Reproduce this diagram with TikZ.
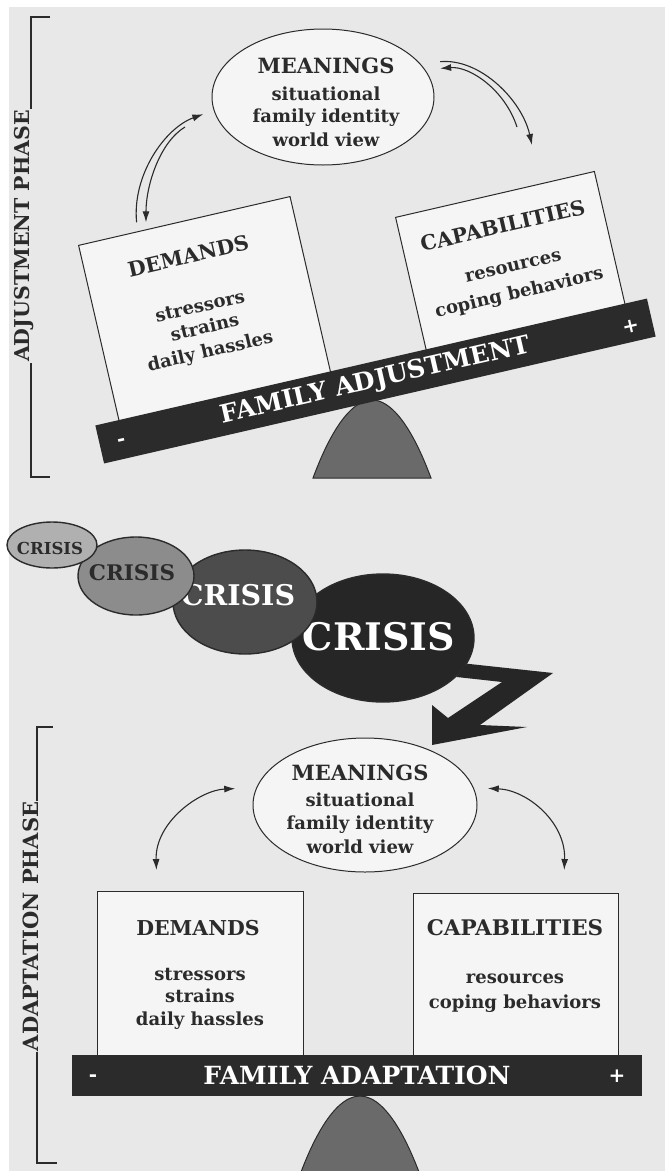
\documentclass[tikz,border=0pt]{standalone}
\usepackage{fontspec}
\setmainfont{DejaVu Serif}
\usetikzlibrary{arrows.meta,calc,positioning,shapes.geometric}

\definecolor{paper}{HTML}{E8E8E8}
\definecolor{ink}{HTML}{2B2B2B}
\definecolor{boxfill}{HTML}{F5F5F5}
\definecolor{domegray}{HTML}{6A6A6A}
\definecolor{shadeA}{HTML}{B0B0B0}
\definecolor{shadeB}{HTML}{8C8C8C}
\definecolor{shadeC}{HTML}{4C4C4C}
\definecolor{shadeD}{HTML}{262626}

\tikzset{
  pointer/.tip={Latex[length=11pt,width=7pt]},
  panel/.style={draw=ink, line width=1pt, fill=boxfill, inner sep=0pt},
  idea/.style={ellipse, draw=ink, line width=1pt, fill=boxfill, inner sep=0pt},
  head/.style={anchor=base, inner sep=0pt, text=ink, font=\fontsize{#1}{#1}\selectfont\bfseries},
  head/.default=20.5,
  item/.style={anchor=base, inner sep=0pt, text=ink, font=\fontsize{18}{22}\selectfont\bfseries},
  beam/.style={fill=ink, inner sep=0pt, text=white, font=\fontsize{#1}{#1}\selectfont\bfseries},
  sign/.style={inner sep=0pt, text=white, font=\fontsize{20}{20}\selectfont\bfseries},
  link/.style={draw=ink, line width=1.1pt, -pointer},
  twoway/.style={draw=ink, line width=1.1pt, pointer-pointer},
  phase/.style={rotate=90, inner sep=1pt, text=ink, font=\fontsize{#1}{#1}\selectfont\bfseries},
  bracket/.style={draw=ink, line width=1.1pt},
  fulcrum/.style={fill=domegray, draw=ink, line width=1pt},
  crisis/.style={ellipse, draw=ink, line width=1.4pt, inner sep=0pt},
  crisistext/.style={inner sep=0pt, font=\fontsize{#1}{#1}\selectfont\bfseries},
}

\begin{document}
\begin{tikzpicture}[x=1pt,y=-1pt]
  \useasboundingbox (0,0) rectangle (665,1171);
  \fill[white] (0,0) rectangle (665,1171);
  \fill[paper] (9,7) rectangle (665,1171);

  % Adjustment phase bracket
  \node[phase=20.5] (adjPhase) at (24,236) {ADJUSTMENT PHASE};
  \coordinate (adjTop) at (31,17);
  \coordinate (adjBot) at (31,477);
  \draw[bracket] ($(adjTop)+(19,0)$) -- (adjTop) -- (adjTop |- adjPhase.east);
  \draw[bracket] (adjBot |- adjPhase.west) -- (adjBot) -- ($(adjBot)+(19,0)$);

  % Meanings (adjustment)
  \node[idea, minimum width=222pt, minimum height=136pt] (meanA) at (323,97) {};
  \node[head=21] (meanAhead) at (326,73) {MEANINGS};
  \foreach \txt/\yy [count=\i] in {situational/100, family identity/122, world view/146}
    \node[item] (meanA\i) at (326,\yy) {\txt};

  % Demands box (tilted)
  \begin{scope}[shift={(78,245)}, rotate=13, transform shape]
    \node[panel, anchor=north west, minimum width=217pt, minimum height=195pt] (demA) at (0,0) {};
    \node[head] (demAhead) at (105,43) {DEMANDS};
    \foreach \txt/\yy [count=\i] in {stressors/93, strains/115, daily hassles/139}
      \node[item] (demA\i) at (105,\yy) {\txt};
  \end{scope}

  % Capabilities box (tilted)
  \begin{scope}[shift={(395,217)}, rotate=13, transform shape]
    \node[panel, anchor=north west, minimum width=204pt, minimum height=150pt] (capA) at (0,0) {};
    \node[head] (capAhead) at (103,40) {CAPABILITIES};
    \foreach \txt/\yy [count=\i] in {resources/80, coping behaviors/107}
      \node[item] (capA\i) at (104,\yy) {\txt};
  \end{scope}

  % Fulcrum and tilted beam
  \draw[fulcrum] (313,478) parabola bend (372,400) (431,478) -- cycle;
  \node[beam=25, rotate=12.96, minimum width=566pt, minimum height=39pt] (barA) at (375.5,381) {FAMILY ADJUSTMENT};
  \node[sign, rotate=13] (barAminus) at ($(barA.west)!0.04!(barA.east)+(0,3)$) {-};
  \node[sign, rotate=13] (barAplus) at ($(barA.west)!0.962!(barA.east)+(0,4)$) {+};

  % Arrows between meanings and boxes
  \coordinate (demAtail) at (185,127);
  \coordinate (capAtail) at (517,127);
  \coordinate (capAtip) at (532,145);
  \draw[link, shorten <=9pt, shorten >=11pt] ($(demA.north west)!0.28!(demA.north east)$)
    .. controls (132,175) and (165,128) .. (meanA.187);
  \draw[link, shorten >=7pt] (demAtail)
    .. controls (160,142) and (146,185) .. ($(demA.north west)!0.32!(demA.north east)$);
  \draw[link, shorten >=15pt] (capAtail)
    .. controls (505,90) and (470,66) .. (meanA.15);
  \draw[link, shorten <=20pt] (meanA.19)
    .. controls (480,58) and (522,100) .. (capAtip);

  % Crisis pile-up
  \node[crisis, fill=shadeD, minimum width=182pt, minimum height=128pt] (crisisD) at (383,638) {};
  \fill[shadeD] (crisisD.-17) -- (553,673) -- (480,725) -- (527,727) -- (432,745)
    -- (432,705) -- (448,718) -- (502,682) -- (crisisD.-28) -- cycle;
  \node[crisistext=38, text=white] (crisisDtext) at ($(crisisD.center)+(-4,-1)$) {CRISIS};
  \node[crisis, fill=shadeC, minimum width=144pt, minimum height=104pt] (crisisC) at (245,602) {};
  \node[crisistext=28.5, text=white] (crisisCtext) at ($(crisisC.center)+(-7,-7)$) {CRISIS};
  \node[crisis, fill=shadeB, minimum width=116pt, minimum height=78pt] (crisisB) at (136,576) {};
  \node[crisistext=21.5, text=ink] (crisisBtext) at ($(crisisB.center)+(-4,-3)$) {CRISIS};
  \node[crisis, fill=shadeA, minimum width=90pt, minimum height=46pt] (crisisA) at (52,545) {};
  \node[crisistext=16.5, text=ink] (crisisAtext) at ($(crisisA.center)+(-2,3)$) {CRISIS};

  % Adaptation phase bracket
  \node[phase=21] (adaPhase) at (31,926.5) {ADAPTATION PHASE};
  \coordinate (adaTop) at (37,727);
  \coordinate (adaBot) at (37,1163);
  \draw[bracket] ($(adaTop)+(16,0)$) -- (adaTop) -- (adaTop |- adaPhase.east);
  \draw[bracket] (adaBot |- adaPhase.west) -- (adaBot) -- ($(adaBot)+(20,0)$);

  % Meanings (adaptation)
  \node[idea, minimum width=224pt, minimum height=134pt] (meanB) at (365,805) {};
  \node[head=21] (meanBhead) at (360,780) {MEANINGS};
  \foreach \txt/\yy [count=\i] in {situational/806, family identity/829, world view/853}
    \node[item] (meanB\i) at (360,\yy) {\txt};

  % Demands and capabilities boxes (level)
  \node[panel, anchor=north west, minimum width=206pt, minimum height=180pt] (demB) at (97,891) {};
  \node[head] (demBhead) at (198,935) {DEMANDS};
  \foreach \txt/\yy [count=\i] in {stressors/980, strains/1002, daily hassles/1025}
    \node[item] (demB\i) at (200,\yy) {\txt};
  \node[panel, anchor=north west, minimum width=205pt, minimum height=180pt] (capB) at (413,893) {};
  \node[head=21.5] (capBhead) at (515,935) {CAPABILITIES};
  \foreach \txt/\yy [count=\i] in {resources/983, coping behaviors/1008}
    \node[item] (capB\i) at (515,\yy) {\txt};

  % Fulcrum and level beam
  \draw[fulcrum] (301,1172) parabola bend (360,1096) (419,1172) -- cycle;
  \node[beam=25, minimum width=570pt, minimum height=41pt] (barB) at (357,1075.5) {FAMILY ADAPTATION};
  \node[sign] (barBminus) at ($(barB.west)!0.037!(barB.east)+(0,3)$) {-};
  \node[sign] (barBplus) at ($(barB.west)!0.956!(barB.east)+(0,1)$) {+};

  % Two-way arrows
  \draw[twoway, shorten <=21pt, shorten >=21pt] ($(demB.north west)!0.29!(demB.north east)$)
    .. controls (155,822) and (200,790) .. (meanB.171);
  \draw[twoway, shorten <=23pt, shorten >=14pt] ($(capB.north west)!0.73!(capB.north east)$)
    .. controls (566,822) and (527,790) .. (meanB.9);
\end{tikzpicture}
\end{document}
